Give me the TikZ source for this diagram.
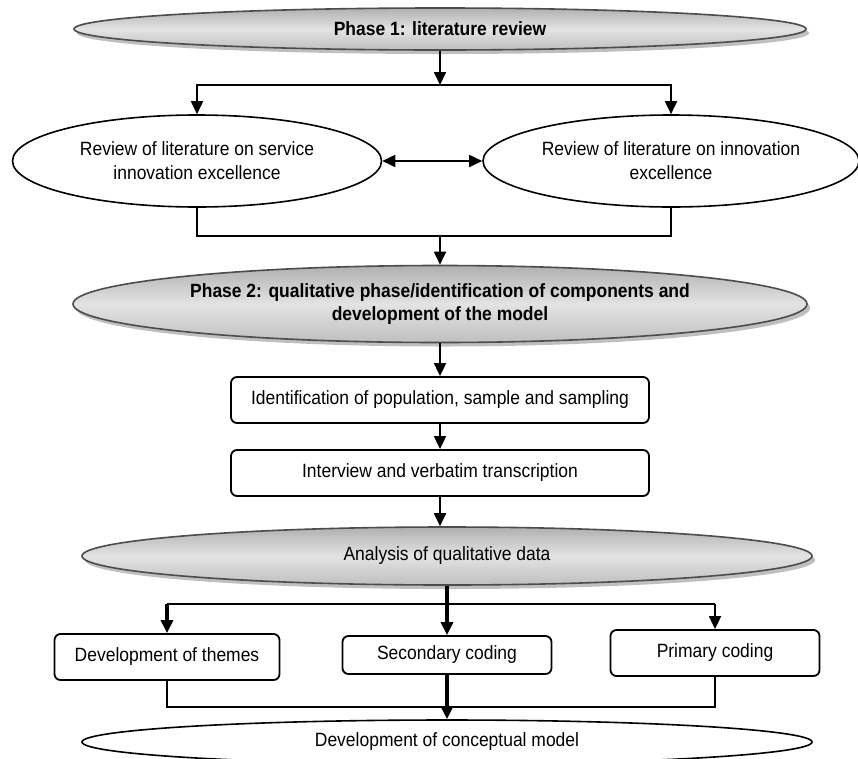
\documentclass[tikz,border=0pt]{standalone}
\usepackage{fontspec}
\setmainfont[FakeStretch=0.91]{Liberation Sans}
\usetikzlibrary{shapes.geometric,arrows.meta,positioning,shadows}

\begin{document}
\begin{tikzpicture}[x=1pt, y=-1pt,
    every node/.style={font=\fontsize{19.2}{24}\selectfont},
    boldtext/.style={font=\fontsize{19.2}{23}\selectfont\bfseries},
    phase/.style={ellipse, draw=black!70, line width=1.6pt, top color=gray!62, bottom color=gray!50, middle color=gray!22,
        drop shadow={shadow xshift=3pt, shadow yshift=-4pt, fill=gray!50, opacity=1}, align=center, inner sep=0pt},
    review/.style={ellipse, draw, line width=1.6pt, fill=white, align=center, inner sep=0pt},
    taskbox/.style={draw, line width=1.8pt, rounded corners=6pt, fill=white, inner sep=0pt},
    link/.style={line width=1.8pt},
    arr/.style={link, -{Triangle[length=13pt, width=12pt]}},
    arrboth/.style={link, {Triangle[length=13pt, width=12pt]}-{Triangle[length=13pt, width=12pt]}},
    arrthick/.style={line width=3.4pt, -{Triangle[length=13pt, width=12pt]}}]
    \useasboundingbox (0,0) rectangle (858,758);

    % phase 1
    \node[phase, boldtext, minimum width=732pt, minimum height=42pt] (p1) at (440,29) {Phase 1: literature review};
    \node[review, minimum width=369pt, minimum height=92pt] (lit1) at (197,161) {Review of literature on service\\innovation excellence};
    \node[review, minimum width=376pt, minimum height=92pt] (lit2) at (671,161) {Review of literature on innovation\\excellence};
    \coordinate (split1) at (440,85);
    \coordinate (join1) at (440,236);

    \draw[arr] (p1) -- (split1);
    \draw[arr] (split1) -| (lit1);
    \draw[arr] (split1) -| (lit2);
    \draw[arrboth] (lit1) -- (lit2);
    \draw[link] (lit1) |- (join1) -| (lit2);

    % phase 2
    \node[phase, boldtext, minimum width=734pt, minimum height=77pt] (p2) at (440,304) {Phase 2: qualitative phase/identification of components and\\development of the model};
    \node[taskbox, minimum width=418pt, minimum height=46pt] (pop) at (440,400) {Identification of population, sample and sampling};
    \node[taskbox, minimum width=418pt, minimum height=46pt] (interview) at (440,473) {Interview and verbatim transcription};
    \node[phase, minimum width=730pt, minimum height=58pt] (ana) at (447,556) {Analysis of qualitative data};

    \draw[arr] (join1) -- (p2);
    \draw[arr] (p2) -- (pop);
    \draw[arr] (pop) -- (interview);
    \draw[arr] (interview.south) -- (interview.south |- ana.north);

    % coding
    \node[taskbox, minimum width=225pt, minimum height=46pt] (themes) at (167,657) {Development of themes};
    \node[taskbox, minimum width=209pt, minimum height=38pt] (sec) at (447,655) {Secondary coding};
    \node[taskbox, minimum width=209pt, minimum height=46pt] (prim) at (715,653) {Primary coding};
    \node[review, minimum width=730pt, minimum height=44pt] (model) at (447,742) {Development of conceptual model};
    \coordinate (split2) at (447,604);
    \coordinate (join2) at (447,707);

    \draw[arrthick] (ana) -- (sec);
    \draw[link] (themes |- split2) -- (prim |- split2);
    \draw[arrthick] (themes |- split2) -- (themes);
    \draw[arr] (prim |- split2) -- (prim);
    \draw[link] (themes) |- (join2) -| (prim);
    \draw[arrthick] (sec) -- (model);
\end{tikzpicture}
\end{document}
